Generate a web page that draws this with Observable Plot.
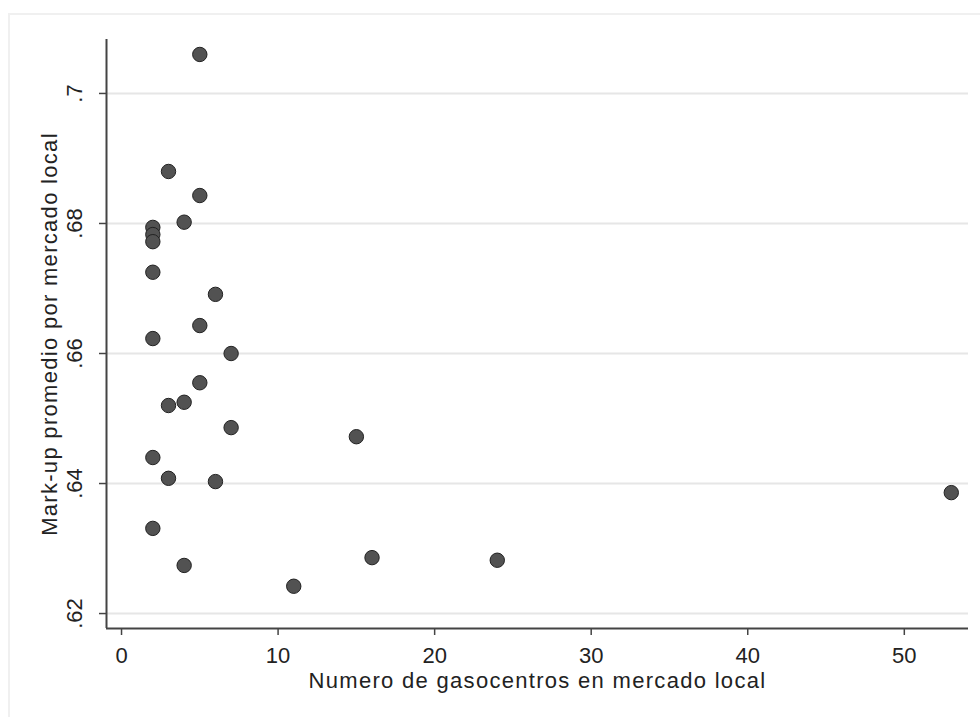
<!DOCTYPE html>
<html>
<head>
<meta charset="utf-8">
<script src="https://cdn.jsdelivr.net/npm/d3@7"></script>
<script src="https://cdn.jsdelivr.net/npm/@observablehq/plot@0.6"></script>
<style>
  html, body { margin: 0; padding: 0; background: #fff; }
  #wrap { position: relative; width: 980px; height: 717px; overflow: hidden; }
  #border { position: absolute; left: 8px; top: 13px; width: 990px; height: 720px;
            border-top: 2px solid #f0f0f0; border-left: 2px solid #f0f0f0; pointer-events: none; }
  #chart { position: absolute; left: 0; top: 0; }
</style>
</head>
<body>
<div id="wrap"><div id="border"></div><div id="chart"></div></div>
<script>
// Number of gas stations in the local market
const gasStations = [5, 3, 5, 4, 2, 2, 2, 2, 6, 5, 2, 7, 5, 4, 3, 7, 15, 2, 3, 6, 53, 2, 16, 24, 4, 11];
// Average mark-up per local market
const markups = [0.706, 0.688, 0.6843, 0.6802, 0.6794, 0.6783, 0.6772, 0.6725, 0.6691, 0.6643,
                 0.6623, 0.660, 0.6555, 0.6525, 0.652, 0.6486, 0.6472, 0.644, 0.6408, 0.6403,
                 0.6386, 0.6331, 0.6286, 0.6282, 0.6274, 0.6242];
const xTicks = [0, 10, 20, 30, 40, 50];
const yTicks = [0.62, 0.64, 0.66, 0.68, 0.70];
const xLabel = "Numero de gasocentros en mercado local";
const yLabel = "Mark-up promedio por mercado local";

const data = gasStations.map((g, i) => ({g, m: markups[i]}));
const fmtY = d => d3.format(".2~f")(d).replace(/^0/, "");

const chart = Plot.plot({
  width: 980,
  height: 717,
  marginLeft: 106,
  marginRight: 12,
  marginTop: 39,
  marginBottom: 89,
  style: {fontFamily: "'Liberation Sans', Arial, sans-serif", fontSize: "22px", color: "#222", background: "transparent"},
  x: {domain: [-0.96, 54.1]},
  y: {domain: [0.6177, 0.7083]},
  marks: [
    Plot.gridY(yTicks, {stroke: "#e6e6e6", strokeOpacity: 1, strokeWidth: 2}),
    Plot.axisY(yTicks, {tickSize: 7, tickPadding: 18, tickRotate: -90, tickFormat: fmtY, stroke: "#444", strokeWidth: 1.5, label: null, fontSize: 22}),
    Plot.axisX(xTicks, {tickSize: 7, tickPadding: 12, tickFormat: d3.format("d"), stroke: "#444", strokeWidth: 1.5, label: null, fontSize: 22}),
    Plot.ruleX([-0.96], {stroke: "#444", strokeWidth: 2}),
    Plot.ruleY([0.6177], {stroke: "#444", strokeWidth: 2}),
    Plot.dot(data, {x: "g", y: "m", r: 7.2, fill: "#525252", stroke: "#222", strokeWidth: 1}),
    Plot.text([xLabel], {frameAnchor: "bottom", textAnchor: "middle", lineAnchor: "middle", dy: 52, fontSize: 22, fill: "#222"}),
    Plot.text([yLabel], {frameAnchor: "left", textAnchor: "middle", lineAnchor: "middle", rotate: -90, dx: -57, fontSize: 22, fill: "#222"})
  ]
});
d3.select(chart).selectAll("text").filter(function() {
  const t = this.textContent;
  return t === xLabel || t === yLabel;
}).style("letter-spacing", "1.3px");
document.getElementById("chart").appendChild(chart);
</script>
</body>
</html>
